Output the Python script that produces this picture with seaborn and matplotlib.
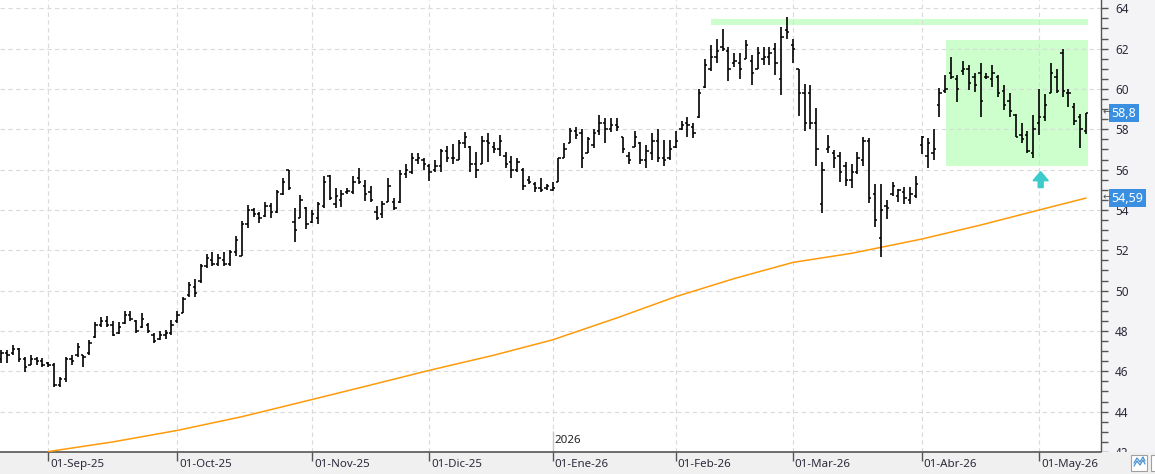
import matplotlib
matplotlib.use("Agg")
import matplotlib.pyplot as plt
import matplotlib.patches as patches
import matplotlib.transforms as mtransforms
from matplotlib.lines import Line2D
import numpy as np
import pandas as pd
import seaborn as sns

# ---- data (daily bars, 20-Aug-25 .. 14-May-26) ----
holidays = ["2025-12-25", "2025-12-26", "2026-01-01", "2026-04-03", "2026-04-06", "2026-05-01"]
dates = pd.bdate_range("2025-08-20", "2026-05-14")
dates = dates[~dates.isin(pd.to_datetime(holidays))]

high = [
    47.07, 47.07, 47.3, 47.17, 46.7, 46.8, 46.7, 46.67, 46.48, 46.43,
    45.7, 46.7, 46.8, 47.4, 46.8, 47.56, 48.45, 48.7, 48.75, 48.5,
    48.45, 49.0, 49.0, 48.55, 48.9, 48.4, 47.9, 48.0, 48.06, 48.56,
    49.0, 49.7, 50.44, 50.6, 51.3, 51.8, 51.9, 51.8, 51.9, 52.0,
    52.7, 53.45, 54.25, 54.1, 53.9, 54.4, 54.35, 55.0, 55.6, 56.0,
    54.1, 54.75, 54.15, 54.0, 54.4, 55.7, 55.73, 55.1, 55.0, 55.1,
    55.7, 56.1, 55.5, 55.2, 54.2, 54.45, 55.6, 54.6, 56.0, 56.3,
    56.8, 56.8, 56.6, 56.3, 56.5, 57.0, 57.17, 57.27, 57.46, 57.86,
    57.17, 56.87, 57.66, 57.8, 57.37, 57.7, 56.87, 56.7, 56.57, 56.1,
    55.7, 55.4, 55.6, 55.3, 55.4, 56.6, 57.3, 58.06, 58.1, 58.0,
    57.6, 58.0, 58.7, 58.55, 58.55, 58.55, 57.6, 56.87, 57.9, 57.37,
    57.2, 57.8, 58.0, 57.46, 57.46, 57.9, 58.4, 58.6, 58.3, 60.0,
    61.5, 62.2, 62.5, 62.96, 62.1, 61.8, 61.8, 62.45, 61.67, 62.07,
    62.07, 62.07, 62.3, 63.06, 63.55, 62.5, 61.0, 60.24, 60.2, 59.05,
    56.4, 57.7, 56.97, 56.87, 56.4, 56.3, 56.87, 57.6, 57.56, 55.3,
    55.3, 54.5, 55.4, 55.04, 55.14, 55.14, 55.7, 57.66, 57.56, 58.0,
    60.04, 60.7, 61.6, 60.7, 61.4, 61.2, 60.8, 61.3, 60.8, 61.2,
    60.7, 60.2, 59.8, 58.75, 58.3, 57.9, 58.7, 60.0, 59.74, 61.3,
    61.0, 62.0, 60.0, 59.3, 58.75, 58.8]
low = [
    46.43, 46.43, 46.8, 46.48, 45.98, 46.3, 46.3, 46.23, 46.2, 45.2,
    45.24, 45.45, 46.3, 46.7, 46.2, 46.8, 47.66, 48.2, 48.2, 47.76,
    47.86, 48.36, 48.5, 47.9, 48.16, 47.9, 47.4, 47.56, 47.6, 47.8,
    48.4, 48.9, 49.7, 49.7, 50.4, 51.1, 51.2, 51.2, 51.2, 51.2,
    51.7, 51.7, 53.1, 53.65, 53.35, 53.65, 53.6, 53.85, 54.75, 55.0,
    52.4, 53.6, 53.05, 53.35, 53.3, 54.1, 54.5, 54.1, 54.15, 54.8,
    54.8, 55.3, 54.45, 54.4, 53.5, 53.6, 54.4, 54.0, 54.35, 55.6,
    55.8, 56.3, 56.0, 55.45, 55.9, 55.9, 56.4, 56.3, 56.5, 57.07,
    55.9, 55.6, 56.3, 56.4, 56.8, 56.7, 56.1, 55.6, 55.9, 55.0,
    55.3, 54.9, 54.9, 55.0, 54.95, 55.4, 56.6, 57.3, 57.5, 56.1,
    56.8, 57.07, 57.7, 57.3, 57.86, 57.9, 56.8, 56.3, 57.1, 56.3,
    56.1, 56.5, 56.4, 56.2, 56.5, 57.07, 57.96, 57.6, 57.56, 58.55,
    60.04, 60.9, 61.3, 61.87, 60.4, 61.1, 60.5, 61.5, 60.2, 60.98,
    61.2, 61.2, 60.7, 59.7, 62.5, 61.3, 58.65, 57.9, 58.0, 56.2,
    53.85, 56.8, 56.1, 55.4, 55.2, 55.1, 55.8, 56.2, 54.35, 53.16,
    51.67, 53.55, 54.7, 54.4, 54.3, 54.3, 54.6, 56.77, 56.1, 56.5,
    58.6, 59.8, 60.5, 59.35, 60.7, 59.94, 59.84, 58.6, 60.5, 60.1,
    59.6, 58.95, 58.6, 57.6, 57.3, 56.8, 56.57, 57.7, 58.4, 59.8,
    59.8, 59.6, 59.1, 58.2, 57.07, 57.76]
opens = [
    46.6, 46.9, 46.9, 47.1, 46.6, 46.3, 46.6, 46.5, 46.4, 46.3,
    45.3, 45.6, 46.6, 46.8, 46.8, 46.9, 47.7, 48.3, 48.5, 48.3,
    47.9, 48.4, 48.8, 48.5, 48.2, 48.3, 47.8, 47.6, 47.8, 47.9,
    48.5, 48.9, 49.8, 50.2, 50.5, 51.2, 51.5, 51.3, 51.5, 51.3,
    51.9, 51.7, 53.3, 54.0, 53.8, 53.7, 54.2, 53.9, 54.8, 56.0,
    53.4, 53.6, 54.1, 53.4, 53.6, 54.2, 55.7, 54.3, 54.5, 54.9,
    54.9, 55.6, 55.2, 54.9, 53.9, 53.8, 54.4, 54.4, 54.4, 55.8,
    55.9, 56.5, 56.5, 56.2, 56.0, 56.2, 56.9, 56.6, 56.5, 57.3,
    57.1, 56.3, 56.3, 57.4, 57.1, 57.0, 56.7, 56.4, 56.0, 56.0,
    55.5, 55.3, 55.1, 55.1, 55.0, 55.4, 56.6, 57.3, 57.9, 57.8,
    56.8, 57.2, 57.9, 58.3, 58.0, 58.2, 57.6, 56.7, 57.1, 57.3,
    56.5, 56.8, 57.4, 56.6, 56.6, 57.1, 58.0, 58.3, 58.1, 58.6,
    60.1, 61.0, 61.6, 62.1, 61.9, 61.3, 61.3, 61.5, 61.4, 61.0,
    61.5, 61.6, 62.0, 60.5, 62.9, 62.2, 61.0, 59.8, 59.8, 58.3,
    54.3, 57.0, 56.8, 56.7, 56.2, 55.5, 55.9, 56.5, 57.4, 54.8,
    52.6, 54.2, 54.8, 54.7, 54.9, 54.5, 54.7, 57.2, 56.7, 56.8,
    59.2, 59.9, 60.8, 60.5, 60.9, 61.0, 60.6, 60.8, 60.6, 60.5,
    60.6, 59.9, 59.4, 58.7, 57.7, 57.7, 56.8, 58.3, 58.6, 59.8,
    60.6, 61.8, 59.8, 59.1, 58.6, 57.9]
closes = [
    46.9, 46.8, 47.1, 46.6, 46.2, 46.6, 46.5, 46.3, 46.3, 45.3,
    45.6, 46.6, 46.5, 47.2, 46.7, 47.4, 48.3, 48.5, 48.3, 47.8,
    48.2, 48.8, 48.6, 48.0, 48.6, 48.0, 47.5, 47.8, 47.9, 48.3,
    48.8, 49.6, 50.3, 49.9, 51.2, 51.6, 51.3, 51.6, 51.3, 51.9,
    52.5, 53.3, 54.0, 53.8, 53.6, 54.2, 53.9, 54.9, 55.4, 55.1,
    53.0, 54.5, 53.3, 53.8, 54.3, 55.4, 54.6, 54.7, 54.8, 54.95,
    55.4, 55.4, 54.8, 54.5, 53.6, 54.3, 55.2, 54.1, 55.8, 56.0,
    56.6, 56.6, 56.3, 55.9, 56.2, 56.9, 56.6, 56.6, 57.3, 57.6,
    56.3, 56.0, 57.4, 57.3, 57.0, 57.4, 56.3, 56.0, 56.4, 55.2,
    55.4, 55.1, 55.0, 55.2, 55.1, 56.6, 57.0, 57.9, 57.7, 56.6,
    57.5, 57.8, 58.3, 58.0, 58.2, 58.1, 57.0, 56.5, 57.6, 56.5,
    56.9, 57.4, 56.6, 56.5, 57.0, 57.4, 58.2, 58.2, 57.8, 59.8,
    61.2, 61.6, 61.9, 62.0, 61.0, 61.4, 61.0, 62.2, 60.8, 61.8,
    61.6, 61.8, 61.3, 62.6, 62.8, 62.0, 59.8, 58.3, 58.3, 57.0,
    56.0, 57.1, 56.6, 55.9, 55.5, 55.9, 56.6, 57.4, 54.6, 53.5,
    54.0, 54.1, 55.2, 55.0, 54.6, 54.8, 55.3, 57.6, 57.3, 57.0,
    59.8, 60.0, 60.6, 60.0, 61.0, 60.3, 60.2, 59.4, 60.6, 60.8,
    59.8, 59.2, 58.9, 57.6, 57.5, 56.9, 58.0, 58.6, 59.2, 60.8,
    59.9, 59.9, 59.8, 58.4, 58.0, 58.8]

# moving average (orange), read at a few bars
ma_bar = [8, 19, 30, 41, 51, 62, 73, 84, 94, 105, 115, 125, 135, 145, 157, 167, 177, 185]
ma_val = [42.02, 42.5, 43.07, 43.75, 44.46, 45.25, 46.05, 46.8, 47.56, 48.65,
          49.7, 50.6, 51.4, 51.85, 52.56, 53.25, 54.0, 54.59]

month_starts = ["2025-09-01", "2025-10-01", "2025-11-01", "2025-12-01", "2026-01-01",
                "2026-02-01", "2026-03-01", "2026-04-01", "2026-05-01"]
month_labels = ["01-Sep-25", "01-Oct-25", "01-Nov-25", "01-Dic-25", "01-Ene-26",
                "01-Feb-26", "01-Mar-26", "01-Abr-26", "01-May-26"]
y_ticks = list(range(42, 65, 2))

# annotations drawn on the chart
resist_level = (63.16, 63.46)
range_box = (161.1, 185.4, 56.19, 62.42)   # x0, x1, y0, y1

df = pd.DataFrame({"date": dates, "open": opens, "high": high, "low": low, "close": closes})
df["i"] = np.arange(len(df))
ma = pd.DataFrame({"i": ma_bar, "ma": ma_val})
month_idx = np.searchsorted(df["date"].values, pd.to_datetime(month_starts).values)

# ---- figure ----
sns.set_theme(style="white")
plt.rcParams["font.family"] = ["Noto Sans", "DejaVu Sans"]

W, H = 1155, 474
fig = plt.figure(figsize=(W / 100, H / 100), dpi=100)
fig.patch.set_facecolor("#f4f4f7")

ax = fig.add_axes([0, 22 / H, 1101 / W, 452 / H])
ax.set_facecolor("white")
ax.set_xlim(-0.24, 187.55)
ax.set_ylim(42.06, 64.41)

grid_kw = dict(color="#dadada", lw=0.8, ls=(0, (4, 3)), zorder=1)
for m in month_idx:
    ax.axvline(m, **grid_kw)
for t in y_ticks[1:]:
    ax.axhline(t, **grid_kw)

# year marker
jan = month_idx[4]
ax.vlines(jan, 42.06, 43.05, color="#c6c6c6", lw=1.0, zorder=1.2)
ax.text(jan + 0.35, 42.55, "2026", fontsize=8.3, color="#222222", va="center", ha="left")

# green zones
ax.add_patch(patches.Rectangle((range_box[0], range_box[2]), range_box[1] - range_box[0],
                               range_box[3] - range_box[2], facecolor="#ccffcc",
                               edgecolor="none", zorder=0.5))
ax.add_patch(patches.Rectangle((121.0, resist_level[0]), range_box[1] - 121.0,
                               resist_level[1] - resist_level[0], facecolor="#ccffcc",
                               edgecolor="none", zorder=0.5))

# moving average
sns.lineplot(data=ma, x="i", y="ma", ax=ax, color="#ff9a0a", linewidth=1.1, zorder=3)

# OHLC bars
ax.vlines(df["i"], df["low"], df["high"], color="black", lw=1.2, zorder=4)
ax.hlines(df["open"], df["i"] - 0.4, df["i"], color="black", lw=1.1, zorder=4)
ax.hlines(df["close"], df["i"], df["i"] + 0.4, color="black", lw=1.1, zorder=4)

# cyan arrow
ax.add_patch(patches.FancyArrow(177.26, 55.11, 0, 0.79, width=0.85, head_width=2.6,
                                head_length=0.45, length_includes_head=True,
                                color="#3ccaca", zorder=5))

ax.set_xlabel("")
ax.set_ylabel("")
for s in ["top", "left"]:
    ax.spines[s].set_visible(False)
ax.spines["right"].set_color("#555555")
ax.spines["bottom"].set_color("#555555")
ax.spines["right"].set_linewidth(1.0)
ax.spines["bottom"].set_linewidth(1.2)
ax.set_xticks([])
ax.yaxis.tick_right()
ax.set_yticks(y_ticks)
ax.set_yticklabels([str(t) for t in y_ticks])
ax.set_yticks(np.arange(42, 64.5, 0.5), minor=True)
ax.tick_params(axis="y", which="major", length=5, width=1, color="#555555",
               labelcolor="#2b2b3c", labelsize=8.5, pad=5, right=True, left=False)
ax.tick_params(axis="y", which="minor", length=5, width=1, color="#555555", right=True, left=False)

# last-value labels on the price axis
trans = mtransforms.blended_transform_factory(ax.transAxes, ax.transData)
for val in [closes[-1], ma_val[-1]]:
    txt = f"{val:.2f}".rstrip("0").replace(".", ",")
    ax.text(1.0094, val, txt, transform=trans, fontsize=9, color="white", ha="left",
            va="center", clip_on=False, zorder=10,
            bbox=dict(boxstyle="square,pad=0.22", facecolor="#3b8fe0", edgecolor="none"))
    ax.text(1.0015, val, "\u2190", transform=trans, fontsize=7, color="#555555",
            ha="left", va="center", clip_on=False, zorder=10)

# bottom date band
axb = fig.add_axes([0, 0, 1, 22 / H])
axb.set_zorder(2)
axb.set_facecolor("#f0f0f0")
axb.set_xlim(-0.24, -0.24 + (187.55 + 0.24) * W / 1101)
axb.set_ylim(0, 1)
for s in axb.spines.values():
    s.set_visible(False)
axb.set_xticks([])
axb.set_yticks([])
axb.axhline(1, xmin=0, xmax=1101 / W, color="#555555", lw=1.2)
axb.vlines(month_idx, 0.58, 1, color="#555555", lw=1.0)
for m, lab in zip(month_idx, month_labels):
    axb.text(m + 0.3, 0.43, lab, fontsize=8.3, color="#2b2b3c", ha="left", va="center")

# small toolbar buttons at the bottom right
fig.add_artist(patches.Rectangle((1131 / W, 3 / H), 16 / W, 16 / H, transform=fig.transFigure,
                                 facecolor="white", edgecolor="#a0a0a0", lw=0.8, zorder=5))
fig.add_artist(patches.Rectangle((1151 / W, 3 / H), 10 / W, 16 / H, transform=fig.transFigure,
                                 facecolor="white", edgecolor="#a0a0a0", lw=0.8, zorder=5))
zx = np.array([1134, 1137, 1140, 1143, 1145]) / W
fig.add_artist(Line2D(zx, np.array([8, 13, 9, 14, 10]) / H, transform=fig.transFigure,
                      color="#4a90d0", lw=0.9, zorder=6))
fig.add_artist(Line2D(zx, np.array([11, 16, 12, 17, 13]) / H, transform=fig.transFigure,
                      color="#4a90d0", lw=0.9, zorder=6))

fig.savefig("out.png", dpi=100, facecolor=fig.get_facecolor())
